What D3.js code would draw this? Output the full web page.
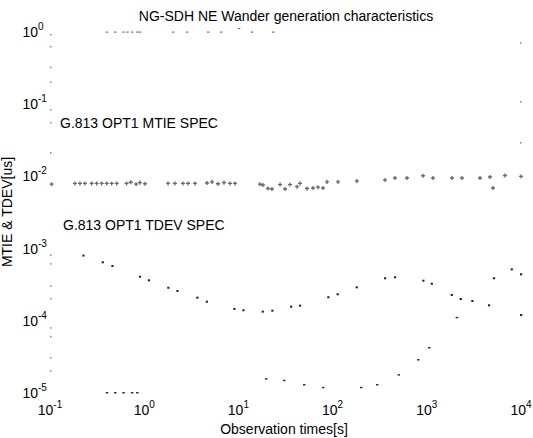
<!DOCTYPE html>
<html><head><meta charset="utf-8">
<script src="https://cdn.jsdelivr.net/npm/d3@7"></script>
<style>body{margin:0;background:#fff}svg{display:block;font-family:"Liberation Sans",Arial,sans-serif}</style>
</head><body><svg id="c" width="533" height="438"></svg>
<script>
// ---- data ----
const xTickExps = [-1, 0, 1, 2, 3, 4];
const yTickExps = [0, -1, -2, -3, -4, -5];
const title = "NG-SDH NE Wander generation characteristics";
const xLabel = "Observation times[s]";
const yLabel = "MTIE & TDEV[us]";
const mtieSpecLabel = "G.813 OPT1 MTIE SPEC";
const tdevSpecLabel = "G.813 OPT1 TDEV SPEC";

// dotted top trace (near 1 us)
const topTraceX = [0.40, 0.49, 0.60, 0.66, 0.74, 0.84, 0.90, 2.02, 2.84, 4.75, 6.53, 10.1, 13.9, 23.3];
const topTraceY = [1.0, 1.0, 1.0, 1.0, 1.0, 1.0, 1.0, 1.0, 1.0, 1.0, 1.0, 1.12, 1.0, 1.0];

// measured MTIE
const mtieX = [0.104, 0.184, 0.208, 0.235, 0.277, 0.313, 0.354, 0.40, 0.452, 0.511,
  0.65, 0.72, 0.82, 0.90, 1.02, 1.79, 2.12, 2.58, 2.92, 3.46,
  4.64, 5.25, 6.07, 7.03, 8.14, 9.2, 16.9, 18.2, 20.6, 22.7,
  27.7, 31.3, 35.3, 41.9, 45.1, 53.5, 61.9, 70, 79, 87.3,
  114, 181, 360, 459, 616, 912, 1164, 1853, 2366, 3670,
  4690, 5045, 6760, 10000];
const mtieY = [7.8e-3, 8.0e-3, 8.0e-3, 8.0e-3, 8.0e-3, 8.0e-3, 8.0e-3, 8.0e-3, 8.0e-3, 8.0e-3,
  8.0e-3, 8.3e-3, 7.8e-3, 8.2e-3, 7.9e-3, 8.0e-3, 8.0e-3, 8.0e-3, 8.0e-3, 8.0e-3,
  8.1e-3, 8.4e-3, 7.9e-3, 8.2e-3, 8.0e-3, 8.0e-3, 7.8e-3, 7.6e-3, 6.8e-3, 6.7e-3,
  7.7e-3, 6.7e-3, 7.7e-3, 7.2e-3, 8.0e-3, 6.8e-3, 6.9e-3, 7.1e-3, 6.9e-3, 8.4e-3,
  8.4e-3, 8.6e-3, 8.9e-3, 9.5e-3, 9.5e-3, 1.02e-2, 9.5e-3, 9.5e-3, 9.5e-3, 9.5e-3,
  9.8e-3, 6.9e-3, 1.03e-2, 1.0e-2];

// upper TDEV-type curve
const curveX = [0.226, 0.362, 0.459, 0.90, 1.12, 1.80, 2.25, 3.66, 4.61, 9.05, 11.3, 18.1, 22.9,
  36.2, 45.1, 90, 113, 180, 360, 459, 918, 1127, 1837, 2290, 3040, 4570];
const curveY = [8.0e-4, 6.46e-4, 5.74e-4, 4.08e-4, 3.64e-4, 2.87e-4, 2.59e-4, 2.09e-4, 1.84e-4,
  1.46e-4, 1.40e-4, 1.34e-4, 1.38e-4, 1.57e-4, 1.62e-4, 2.12e-4, 2.33e-4, 2.91e-4, 3.88e-4,
  4.01e-4, 3.59e-4, 3.26e-4, 2.28e-4, 2.0e-4, 1.88e-4, 1.64e-4];
const curve2X = [5160, 7960, 10000, 10000];
const curve2Y = [3.88e-4, 5.16e-4, 4.4e-4, 1.2e-4];

// lower TDEV-type trace
const lowX = [0.40, 0.49, 0.60, 0.74, 0.84, 19.6, 30.5, 49.7, 79, 200, 296, 501, 807, 1054, 2075];
const lowY = [1.0e-5, 1.0e-5, 1.0e-5, 1.0e-5, 1.0e-5, 1.56e-5, 1.48e-5, 1.29e-5, 1.18e-5, 1.18e-5,
  1.29e-5, 1.77e-5, 2.86e-5, 4.2e-5, 1.1e-4];

// surviving faint axis tick dots
const leftTickY = [0.91, 0.62, 0.32, 0.20, 0.083, 0.055, 0.021, 8.1e-4, 6.1e-4, 3.0e-4, 2.0e-4,
  7.9e-5, 6.0e-5, 3.05e-5, 2.0e-5];
const rightTickY = [0.70, 0.107, 0.029];

// ---- drawing ----
const svg = d3.select("#c");
const x = d3.scaleLog().domain([0.1, 1e4]).range([50, 521]);
const y = d3.scaleLog().domain([1e-5, 1]).range([393, 32]);
const ink = "#000";

svg.append("g").selectAll("rect").data(leftTickY).join("rect")
  .attr("x", 50).attr("y", d => y(d) - 1).attr("width", 1.5).attr("height", 1.5)
  .attr("fill", "#888");
svg.append("g").selectAll("rect").data(rightTickY).join("rect")
  .attr("x", 520).attr("y", d => y(d) - 1).attr("width", 1.5).attr("height", 1.5)
  .attr("fill", "#888");

// title and labels
svg.append("text").attr("x", 286).attr("y", 21).attr("text-anchor", "middle")
  .attr("font-size", 14).attr("fill", ink).text(title);
svg.append("text").attr("x", 284).attr("y", 434).attr("text-anchor", "middle")
  .attr("font-size", 14).attr("fill", ink).text(xLabel);
svg.append("text").attr("transform", "translate(12,212) rotate(-90)").attr("text-anchor", "middle")
  .attr("font-size", 14).attr("fill", ink).text(yLabel);
svg.append("text").attr("x", 60).attr("y", 128).attr("font-size", 14).attr("fill", ink).text(mtieSpecLabel);
svg.append("text").attr("x", 63).attr("y", 230).attr("font-size", 14).attr("fill", ink).text(tdevSpecLabel);

// x tick labels
const xt = svg.append("g").selectAll("text").data(xTickExps).join("text")
  .attr("x", d => x(Math.pow(10, d))).attr("y", 415).attr("text-anchor", "middle")
  .attr("font-size", 14).attr("fill", ink);
xt.append("tspan").text("10");
xt.append("tspan").attr("dy", -7).attr("font-size", 10).text(d => d);

// y tick labels
const yg = svg.append("g");
yg.selectAll("text.b").data(yTickExps).join("text").attr("class", "b")
  .attr("x", 38).attr("y", d => y(Math.pow(10, d)) + 5).attr("text-anchor", "end")
  .attr("font-size", 14).attr("fill", ink).text("10");
yg.selectAll("text.e").data(yTickExps).join("text").attr("class", "e")
  .attr("x", 38).attr("y", d => y(Math.pow(10, d)) - 2)
  .attr("font-size", 10).attr("fill", ink).text(d => d);

// dotted top trace
svg.append("g").selectAll("rect").data(topTraceX.map((v, i) => [v, topTraceY[i]])).join("rect")
  .attr("x", d => x(d[0]) - 1).attr("y", d => y(d[1]) - 0.5).attr("width", 2.5).attr("height", 1.2)
  .attr("fill", "#777");

// measured MTIE: small plus marks
const plus = d3.symbol().type(d3.symbolCross).size(9);
svg.append("g").selectAll("path").data(mtieX.map((v, i) => [v, mtieY[i]])).join("path")
  .attr("d", plus).attr("transform", d => `translate(${x(d[0])},${y(d[1])})`)
  .attr("fill", "#444").attr("opacity", 0.8);

// upper curve and branch
svg.append("g").selectAll("rect")
  .data(curveX.map((v, i) => [v, curveY[i]]).concat(curve2X.map((v, i) => [v, curve2Y[i]])))
  .join("rect")
  .attr("x", d => x(d[0]) - 1).attr("y", d => y(d[1]) - 1).attr("width", 2.2).attr("height", 2)
  .attr("fill", "#222");

// lower trace
svg.append("g").selectAll("rect").data(lowX.map((v, i) => [v, lowY[i]])).join("rect")
  .attr("x", d => x(d[0]) - 1).attr("y", d => y(d[1]) - 1).attr("width", 2.5).attr("height", 1.5)
  .attr("fill", "#333");
</script></body></html>
